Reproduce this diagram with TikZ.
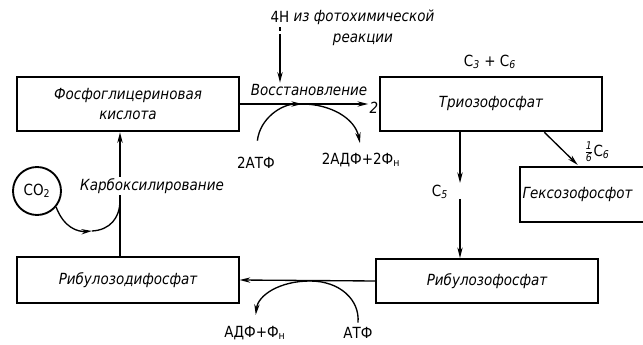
\documentclass[tikz,border=0pt]{standalone}
\usepackage{fontspec}
\setmainfont[FakeStretch=0.88]{DejaVu Sans}
\usetikzlibrary{arrows.meta, positioning, calc}

\begin{document}
\begin{tikzpicture}[x=0.75pt, y=-0.75pt, font=\fontsize{11.5}{13}\selectfont,
    box/.style={draw, rectangle, line width=1.4pt, minimum width=166pt, align=center, font=\fontsize{11.5}{15}\selectfont\itshape},
    lbl/.style={inner sep=1pt, font=\fontsize{11.5}{13}\selectfont\itshape},
    arr/.style={-{Stealth[length=8pt,width=4pt]}, line width=1pt}]
    \useasboundingbox (0,0) rectangle (643,345);
    \clip (0,0) rectangle (643,345);

    % boxes of the cycle
    \node [box, minimum height=41pt] (pga) at (128,104) {Фосфоглицериновая\\кислота};
    \node [box, minimum height=41pt] (triose) at (491,104) {Триозофосфат};
    \node [box, minimum height=34pt] (rudp) at (128,280) {Рибулозодифосфат};
    \node [box, minimum height=33pt] (rup) at (487,281) {Рибулозофосфат};
    \node [box, minimum width=0pt, text width=100pt, inner xsep=2pt, align=left, minimum height=41pt, anchor=west] (hexose) at (519,194.5) {Гексозофосфот};
    \node [draw, circle, line width=1.4pt, minimum size=36pt, inner sep=0pt] (co2) at (37,191) {CO\textsubscript{2}};

    % labels
    \node (h4) at (280,17) {4H};
    \node [lbl, anchor=west] (photo) at (292,17) {из фотохимической};
    \node [lbl] (photo2) at (363,40) {реакции};
    \node [lbl] (reduct) at (309,90) {Восстановление};
    \node [lbl] (two) at (374,108) {2};
    \node (atp2) at (256,163) {2АТФ};
    \node (adp2) at (361,160) {2АДФ+2Ф\textsubscript{н}};
    \node (c36) at (490,62) {C\textsubscript{\itshape 3} + C\textsubscript{\itshape 6}};
    \node (c5) at (440,192) {C\textsubscript{\itshape 5}};
    \node (c6) at (597,152) {$\frac{\mbox{\footnotesize\itshape 1}}{\mbox{\footnotesize\itshape 6}}$C\textsubscript{\itshape 6}};
    \node (adp1) at (255,333) {АДФ+Ф\textsubscript{н}};
    \node (atp1) at (358,333) {АТФ};
    \coordinate (mid5) at (460,191);
    \coordinate (merge1) at (302,104);
    \coordinate (merge2) at (310,281);
    \coordinate (co2mid) at (92,231);
    \coordinate (carbjoin) at (120,200);

    % top: reduction
    \draw[arr, dash pattern=on 3pt off 2pt on 40pt] (h4) -- (reduct.north -| h4);
    \draw[arr] (pga.east) -- (pga.east -| two.west);
    \draw[arr, shorten <=9pt] (atp2.north) .. controls (260,118) and (282,104) .. (merge1);
    \draw[arr, shorten >=4pt] (merge1) .. controls (330,104) and (355,118) .. (adp2.north);

    % right side
    \draw[arr] (triose.south -| mid5) -- ([yshift=6pt]mid5);
    \draw[arr] ([yshift=-6pt]mid5) -- (rup.north -| mid5);
    \draw[arr] ([xshift=40pt]triose.south) -- ([xshift=44pt,yshift=1pt]hexose.north west);

    % bottom: regeneration
    \draw[line width=1pt] (atp1.north) .. controls (360,300) and (340,281) .. (merge2);
    \draw[arr] (rup.west) -- (rudp.east);
    \draw[arr, shorten >=5pt] (merge2) .. controls (280,281) and (258,295) .. (adp1.north);

    % left side: carboxylation
    \draw[arr] ([xshift=-6pt]rudp.north) -- ([xshift=-6pt]pga.south);
    \draw[arr] (co2.-40) .. controls (64,228) and (78,232) .. (co2mid);
    \draw[line width=1pt] (co2mid) .. controls (110,230) and (120,218) .. (carbjoin);
    \node [lbl, fill=white] (carb) at (152,186) {Карбоксилирование};
\end{tikzpicture}
\end{document}
